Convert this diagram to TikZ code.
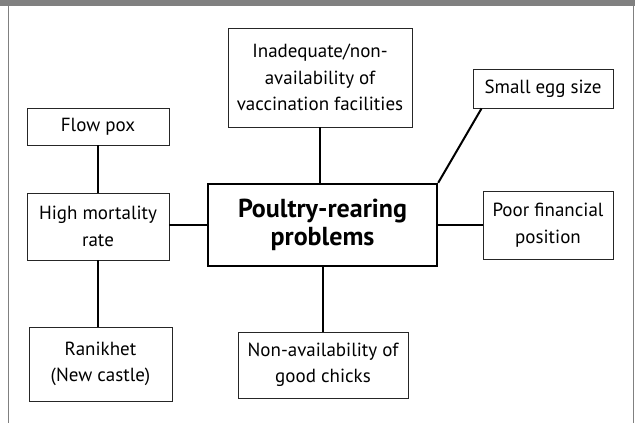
\documentclass[tikz,border=0pt]{standalone}
\usepackage{fontspec}
\setmainfont{PT Sans}
\begin{document}
\begin{tikzpicture}[x=1pt,y=-1pt,
  box/.style={draw=black!85,line width=0.9pt,rectangle,inner sep=0pt,align=center,font=\fontsize{19}{26.5}\selectfont,text=black},
  hub/.style={draw=black,line width=2.4pt,rectangle,inner sep=0pt,align=center,font=\fontsize{26}{28}\selectfont\bfseries,text=black},
  link/.style={draw=black,line width=2pt}]
\useasboundingbox (0,0) rectangle (635,423);
\fill[white] (0,0) rectangle (635,423);
% header bar and frame
\fill[black!50] (0,0) rectangle (635,6);
\draw[black!50,line width=1.5pt] (8.5,6) -- (8.5,423);
\draw[black!50,line width=1.5pt] (633.5,6) -- (633.5,423);
% nodes
\node[hub,minimum width=229pt,minimum height=82pt] (c) at (322.5,225) {Poultry-rearing\\problems};
\node[box,minimum width=184pt,minimum height=99pt] (vac) at (320,77.5) {Inadequate/non-\\availability of\\vaccination facilities};
\node[box,minimum width=140pt,minimum height=39pt] (se) at (543,88.5) {Small egg size};
\node[box,minimum width=130pt,minimum height=68pt] (pf) at (548,225) {Poor financial\\position};
\node[box,minimum width=170pt,minimum height=66pt] (na) at (323,365) {Non-availability of\\good chicks};
\node[box,minimum width=142pt,minimum height=37pt] (fp) at (98,126.5) {Flow pox};
\node[box,minimum width=142pt,minimum height=67pt] (hm) at (98,226.5) {High mortality\\rate};
\node[box,minimum width=143pt,minimum height=74pt] (rk) at (100.5,364) {Ranikhet\\(New castle)};
\coordinate (seanchor) at ([xshift=9pt]se.south west);
% connectors
\draw[link] (vac.south) -- (vac.south |- c.north);
\draw[link] (c.south) -- (c.south |- na.north);
\draw[link] (c.west) -- (c.west -| hm.east);
\draw[link] (c.east) -- (c.east -| pf.west);
\draw[link] (c.north east) -- (seanchor);
\draw[link] (fp.south) -- (hm.north);
\draw[link] (hm.south) -- (hm.south |- rk.north);
\end{tikzpicture}
\end{document}
